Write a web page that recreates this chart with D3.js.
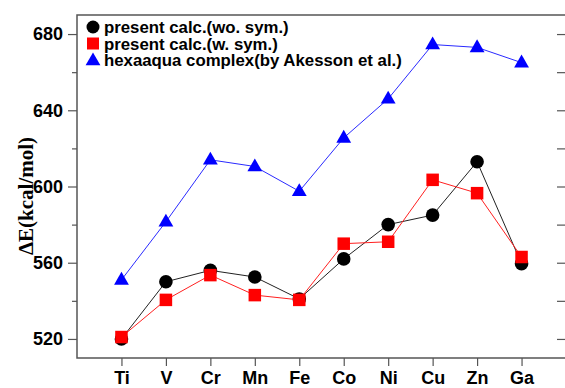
<!DOCTYPE html>
<html>
<head>
<meta charset="utf-8">
<script src="https://cdn.jsdelivr.net/npm/d3@7"></script>
<style>
  body { margin: 0; background: #fff; }
  svg { display: block; }
</style>
</head>
<body>
<div id="chart"></div>
<script>
// elements along the x axis
const elements = ["Ti", "V", "Cr", "Mn", "Fe", "Co", "Ni", "Cu", "Zn", "Ga"];
// present calc. without symmetry
const woSym = [520, 550, 556, 552.5, 541, 562, 580, 585, 613, 559.5];
// present calc. with symmetry
const wSym = [521, 540.5, 553.5, 543, 540.5, 570, 571, 603.5, 596.5, 563];
// hexaaqua complex (Akesson et al.)
const hexaaqua = [551, 581.5, 614, 610.5, 597.5, 625.5, 646, 674.5, 673, 665];
const yMajor = [520, 560, 600, 640, 680];
const yMinor = [540, 580, 620, 660];

const W = 565, H = 388;
const margin = {top: 15, right: -1, bottom: 30, left: 77};

const svg = d3.select("#chart").append("svg")
  .attr("width", W).attr("height", H);

const x = d3.scaleLinear().domain([0, elements.length + 1])
  .range([margin.left, W - margin.right]);
const y = d3.scaleLinear().domain([510, 690])
  .range([H - margin.bottom, margin.top]);

const frame = "#555";
const font = "'Liberation Sans', Arial, sans-serif";

// frame
svg.append("rect")
  .attr("x", x(0)).attr("y", y(690))
  .attr("width", x(11) - x(0)).attr("height", y(510) - y(690))
  .attr("fill", "none").attr("stroke", frame).attr("stroke-width", 1.5);

// left axis
const yAxis = svg.append("g")
  .attr("transform", "translate(" + x(0) + ",0)")
  .call(d3.axisLeft(y).tickValues(yMajor).tickSize(9).tickPadding(5));
yAxis.select(".domain").remove();
yAxis.selectAll("line").attr("stroke", frame).attr("stroke-width", 1.2);
yAxis.selectAll("text")
  .attr("font-family", font).attr("font-weight", "bold")
  .attr("font-size", 18).attr("fill", "#000");

svg.append("g")
  .attr("transform", "translate(" + x(0) + ",0)")
  .call(d3.axisLeft(y).tickValues(yMinor).tickSize(5).tickFormat(""))
  .call(g => g.select(".domain").remove())
  .selectAll("line").attr("stroke", frame).attr("stroke-width", 1.2);

// right side inner ticks
svg.append("g")
  .attr("transform", "translate(" + x(11) + ",0)")
  .call(d3.axisLeft(y).tickValues(yMajor.concat(yMinor)).tickSize(9).tickFormat(""))
  .call(g => g.select(".domain").remove())
  .selectAll("line").attr("stroke", frame).attr("stroke-width", 1.2);

// bottom axis
const xAxis = svg.append("g")
  .attr("transform", "translate(0," + y(510) + ")")
  .call(d3.axisBottom(x)
    .tickValues(d3.range(1, elements.length + 1))
    .tickFormat(i => elements[i - 1])
    .tickSize(8).tickPadding(5));
xAxis.select(".domain").remove();
xAxis.selectAll("line").attr("stroke", frame).attr("stroke-width", 1.2);
xAxis.selectAll("text")
  .attr("font-family", font).attr("font-weight", "bold")
  .attr("font-size", 18).attr("fill", "#000");

// y title
svg.append("text")
  .attr("transform", "translate(33,196) rotate(-90)")
  .attr("text-anchor", "middle")
  .attr("font-family", "'Liberation Serif', 'Times New Roman', serif")
  .attr("font-weight", "bold")
  .attr("font-size", 21)
  .text("\u0394E(kcal/mol)");

const line = d3.line().x((d, i) => x(i + 1)).y(d => y(d));

const tri = d3.symbol().type(d3.symbolTriangle).size(95);
const sq = 12.5;

// blue series
svg.append("path").datum(hexaaqua).attr("d", line)
  .attr("fill", "none").attr("stroke", "#2a2aff").attr("stroke-width", 1);
svg.selectAll(".tri").data(hexaaqua).enter().append("path")
  .attr("d", tri)
  .attr("transform", (d, i) => "translate(" + x(i + 1) + "," + (y(d) + 0.5) + ")")
  .attr("fill", "#0000ff");

// black series
svg.append("path").datum(woSym).attr("d", line)
  .attr("fill", "none").attr("stroke", "#222").attr("stroke-width", 1);
svg.selectAll(".circ").data(woSym).enter().append("circle")
  .attr("cx", (d, i) => x(i + 1)).attr("cy", d => y(d))
  .attr("r", 6.8).attr("fill", "#000");

// red series
svg.append("path").datum(wSym).attr("d", line)
  .attr("fill", "none").attr("stroke", "#ff2020").attr("stroke-width", 1);
svg.selectAll(".sq").data(wSym).enter().append("rect")
  .attr("x", (d, i) => x(i + 1) - sq / 2).attr("y", d => y(d) - sq / 2)
  .attr("width", sq).attr("height", sq).attr("fill", "#ff0000");

// legend
const legend = [
  {label: "present calc.(wo. sym.)", kind: "circle"},
  {label: "present calc.(w. sym.)", kind: "square"},
  {label: "hexaaqua complex(by Akesson et al.)", kind: "triangle"}
];
legend.forEach((d, i) => {
  const ly = 27 + i * 16.5;
  if (d.kind === "circle") {
    svg.append("circle").attr("cx", 93).attr("cy", ly).attr("r", 6.5).attr("fill", "#000");
  } else if (d.kind === "square") {
    svg.append("rect").attr("x", 87).attr("y", ly - 6).attr("width", 12).attr("height", 12).attr("fill", "#ff0000");
  } else {
    svg.append("path").attr("d", tri).attr("transform", "translate(93," + (ly + 1) + ")").attr("fill", "#0000ff");
  }
  svg.append("text")
    .attr("x", 104).attr("y", ly + 6)
    .attr("font-family", font).attr("font-weight", "bold")
    .attr("font-size", 16.8)
    .text(d.label);
});
</script>
</body>
</html>
